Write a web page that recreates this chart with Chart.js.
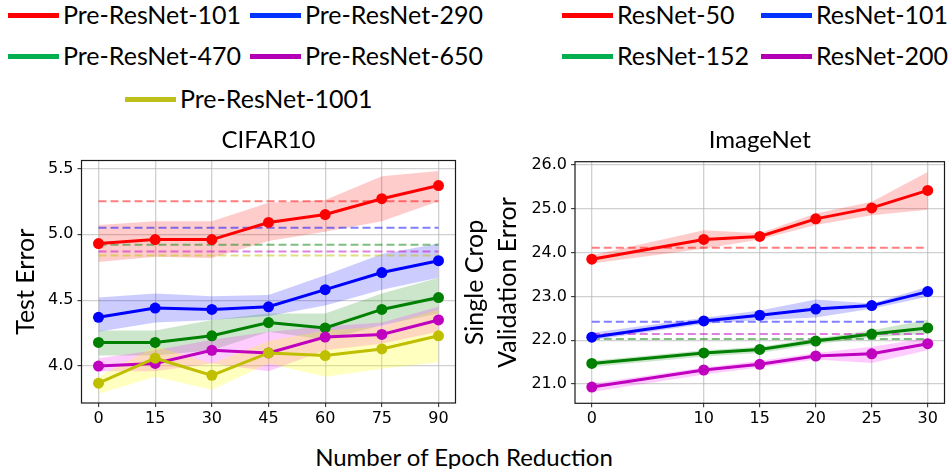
<!DOCTYPE html>
<html>
<head>
<meta charset="utf-8">
<script src="https://cdn.jsdelivr.net/npm/chart.js@4.4.0/dist/chart.umd.min.js"></script>
<style>
  body { margin: 0; width: 950px; height: 469px; overflow: hidden; background: #fff; position: relative; font-family: Lato, sans-serif; }
  canvas { position: absolute; }
  .lg { position: absolute; height: 24px; line-height: 24px; font-size: 25px; white-space: nowrap; color: #000; }
  .sw { position: absolute; width: 51px; height: 5px; }
  #xlabel { position: absolute; left: 0; width: 928px; top: 445px; text-align: center; font-size: 24px; line-height: 24px; color: #000; }
</style>
</head>
<body>
<div id="legend"></div>
<canvas id="cifar" width="470" height="320" style="left:0;top:120px"></canvas>
<canvas id="imagenet" width="510" height="320" style="left:440px;top:120px"></canvas>
<div id="xlabel">Number of Epoch Reduction</div>
<script>
// ---- CIFAR10 ----
const cifarEpochs = [0, 15, 30, 45, 60, 75, 90]
const cifarModels = ['Pre-ResNet-101', 'Pre-ResNet-290', 'Pre-ResNet-470', 'Pre-ResNet-650', 'Pre-ResNet-1001']
const cifarYTicks = [4.0, 4.5, 5.0, 5.5]

const pre101 = [4.93, 4.96, 4.96, 5.09, 5.15, 5.27, 5.37]
const pre101Hi = [5.07, 5.10, 5.10, 5.24, 5.26, 5.44, 5.48]
const pre101Lo = [4.79, 4.83, 4.82, 4.95, 5.02, 5.10, 5.25]

const pre290 = [4.37, 4.44, 4.43, 4.45, 4.58, 4.71, 4.80]
const pre290Hi = [4.52, 4.55, 4.53, 4.54, 4.69, 4.85, 4.93]
const pre290Lo = [4.26, 4.33, 4.35, 4.38, 4.46, 4.58, 4.67]

const pre470 = [4.18, 4.18, 4.23, 4.33, 4.29, 4.43, 4.52]
const pre470Hi = [4.27, 4.27, 4.35, 4.40, 4.40, 4.55, 4.67]
const pre470Lo = [4.08, 4.08, 4.12, 4.26, 4.20, 4.31, 4.40]

const pre650 = [4.00, 4.02, 4.12, 4.10, 4.22, 4.24, 4.35]
const pre650Hi = [4.06, 4.12, 4.20, 4.26, 4.30, 4.33, 4.45]
const pre650Lo = [3.96, 3.96, 4.02, 3.96, 4.12, 4.17, 4.26]

const pre1001 = [3.87, 4.06, 3.93, 4.10, 4.08, 4.13, 4.23]
const pre1001Hi = [3.92, 4.15, 4.02, 4.19, 4.27, 4.30, 4.43]
const pre1001Lo = [3.79, 3.92, 3.82, 4.02, 3.92, 3.98, 4.03]

// full-schedule baselines (dashed)
const cifarBase = [5.25, 5.05, 4.92, 4.87, 4.84]

// ---- ImageNet ----
const inetEpochs = [0, 10, 15, 20, 25, 30]
const inetModels = ['ResNet-50', 'ResNet-101', 'ResNet-152', 'ResNet-200']
const inetYTicks = [21, 22, 23, 24, 25, 26]

const res50 = [23.85, 24.30, 24.37, 24.77, 25.02, 25.42]
const res50Hi = [23.94, 24.51, 24.44, 24.89, 25.16, 25.84]
const res50Lo = [23.75, 24.09, 24.30, 24.63, 24.85, 24.98]

const res101 = [22.07, 22.44, 22.57, 22.71, 22.79, 23.11]
const res101Hi = [22.17, 22.51, 22.68, 22.93, 22.84, 23.22]
const res101Lo = [22.00, 22.37, 22.46, 22.52, 22.72, 22.99]

const res152 = [21.47, 21.71, 21.79, 21.98, 22.14, 22.28]
const res152Hi = [21.53, 21.77, 21.85, 22.04, 22.23, 22.47]
const res152Lo = [21.39, 21.63, 21.71, 21.91, 22.06, 22.15]

const res200 = [20.93, 21.32, 21.45, 21.64, 21.69, 21.92]
const res200Hi = [21.01, 21.38, 21.53, 21.71, 21.85, 22.05]
const res200Lo = [20.82, 21.22, 21.38, 21.56, 21.48, 21.77]

const inetBase = [24.11, 22.42, 22.03, 22.14]

// colours (matplotlib r, b, g, m, y)
const lineColors = ['#ff0000', '#0000ff', '#008000', '#bf00bf', '#bfbf00']
const bandColors = ['rgba(255,0,0,0.2)', 'rgba(0,0,255,0.2)', 'rgba(0,128,0,0.2)', 'rgba(255,0,255,0.2)', 'rgba(255,255,0,0.25)']
const dashColors = ['rgba(255,0,0,0.5)', 'rgba(0,0,255,0.5)', 'rgba(0,128,0,0.5)', 'rgba(191,0,191,0.5)', 'rgba(191,191,0,0.5)']
const legendColors = ['#ff0000', '#0033ff', '#00b050', '#b400b4', '#bfbf1a']

const tickFont = { family: 'DejaVu Sans', size: 16 }
const gridColor = 'rgba(176,176,176,0.6)'

function pts(xs, ys) {
    return xs.map((x, i) => ({ x: x, y: ys[i] }))
}

function buildDatasets(xs, means, his, los, bases) {
    var sets = []
    var n = means.length
    means.forEach((m, i) => {
        sets.push({
            data: pts(xs, his[i]), borderWidth: 0, pointRadius: 0,
            backgroundColor: bandColors[i], fill: '+1', order: 20 + n - i
        })
        sets.push({
            data: pts(xs, los[i]), borderWidth: 0, pointRadius: 0,
            fill: false, order: 20 + n - i
        })
        sets.push({
            data: pts([xs[0], xs[xs.length - 1]], [bases[i], bases[i]]),
            borderColor: dashColors[i], borderWidth: 2, borderDash: [8, 4],
            pointRadius: 0, fill: false, order: 10 + n - i
        })
        sets.push({
            data: pts(xs, m), borderColor: lineColors[i], backgroundColor: lineColors[i],
            borderWidth: 3, pointRadius: 5.5, pointBorderWidth: 0,
            pointBackgroundColor: lineColors[i], fill: false, order: n - i
        })
    })
    return sets
}

const frame = {
    id: 'frame',
    afterDatasetsDraw(chart) {
        var a = chart.chartArea, ctx = chart.ctx
        ctx.save()
        ctx.strokeStyle = '#1a1a1a'
        ctx.lineWidth = 1.2
        ctx.strokeRect(a.left, a.top, a.right - a.left, a.bottom - a.top)
        ctx.restore()
    }
}

function makeChart(canvas, o) {
    return new Chart(canvas, {
        type: 'line',
        data: { datasets: buildDatasets(o.xs, o.means, o.his, o.los, o.bases) },
        options: {
            responsive: false,
            animation: false,
            layout: { padding: { left: 0, right: o.padRight, top: 0, bottom: 0 } },
            plugins: {
                legend: { display: false },
                tooltip: { enabled: false },
                filler: { drawTime: 'beforeDatasetsDraw' },
                title: {
                    display: true, text: o.title, fullSize: false, color: '#000',
                    font: { family: 'Lato', size: 24, weight: 'normal' },
                    padding: { top: 6, bottom: o.titleBottom }
                }
            },
            scales: {
                x: {
                    type: 'linear', min: o.xmin, max: o.xmax,
                    afterBuildTicks: s => { s.ticks = o.xs.map(v => ({ value: v })) },
                    afterFit: s => { s.height = o.xAxisH },
                    grid: { color: gridColor, lineWidth: 1.3, tickLength: 4, tickColor: '#222', tickWidth: 1 },
                    border: { display: false },
                    ticks: { font: tickFont, color: '#000', padding: 2, maxRotation: 0, autoSkip: false }
                },
                y: {
                    type: 'linear', min: o.ymin, max: o.ymax,
                    afterBuildTicks: s => { s.ticks = o.yticks.map(v => ({ value: v })) },
                    afterFit: s => { s.width = o.yAxisW },
                    grid: { color: gridColor, lineWidth: 1.3, tickLength: 4, tickColor: '#222', tickWidth: 1 },
                    border: { display: false },
                    ticks: { font: tickFont, color: '#000', padding: 4, autoSkip: false, callback: v => Number(v).toFixed(1) },
                    title: {
                        display: true, text: o.ytitle, color: '#000',
                        font: { family: 'Lato', size: 25, lineHeight: o.ytitleLH },
                        padding: { top: o.ytitlePad, bottom: 0 }
                    }
                }
            }
        },
        plugins: [frame]
    })
}

makeChart(document.getElementById('cifar'), {
    xs: cifarEpochs,
    means: [pre101, pre290, pre470, pre650, pre1001],
    his: [pre101Hi, pre290Hi, pre470Hi, pre650Hi, pre1001Hi],
    los: [pre101Lo, pre290Lo, pre470Lo, pre650Lo, pre1001Lo],
    bases: cifarBase,
    yticks: cifarYTicks,
    title: 'CIFAR10', ytitle: 'Test Error', ytitleLH: 1.2, ytitlePad: 10.5,
    xmin: -4.5, xmax: 94.5, ymin: 3.72, ymax: 5.56,
    padRight: 14.5, yAxisW: 81.5, xAxisH: 37, titleBottom: 5.7
})

makeChart(document.getElementById('imagenet'), {
    xs: inetEpochs,
    means: [res50, res101, res152, res200],
    his: [res50Hi, res101Hi, res152Hi, res200Hi],
    los: [res50Lo, res101Lo, res152Lo, res200Lo],
    bases: inetBase,
    yticks: inetYTicks,
    title: 'ImageNet', ytitle: ['Single Crop', 'Validation Error'], ytitleLH: 1.32, ytitlePad: 18.5,
    xmin: -1.5, xmax: 31.5, ymin: 20.56, ymax: 26.075,
    padRight: 2, yAxisW: 135, xAxisH: 36.7, titleBottom: 6.9
})

// legends (drawn as html, above each panel)
function legendItem(x, y, name, color) {
    var box = document.getElementById('legend')
    var sw = document.createElement('div')
    sw.className = 'sw'
    sw.style.left = x + 'px'
    sw.style.top = (y - 2.5) + 'px'
    sw.style.background = color
    box.appendChild(sw)
    var t = document.createElement('div')
    t.className = 'lg'
    t.style.left = (x + 55) + 'px'
    t.style.top = (y - 13) + 'px'
    t.textContent = name
    box.appendChild(t)
}

var leftCols = [8, 250], rightCols = [562, 761], rows = [15, 56, 99]
cifarModels.forEach((m, i) => {
    var x = i < 4 ? leftCols[i % 2] : 125
    legendItem(x, rows[Math.floor(i / 2)], m, legendColors[i])
})
inetModels.forEach((m, i) => {
    legendItem(rightCols[i % 2], rows[Math.floor(i / 2)], m, legendColors[i])
})
</script>
</body>
</html>
